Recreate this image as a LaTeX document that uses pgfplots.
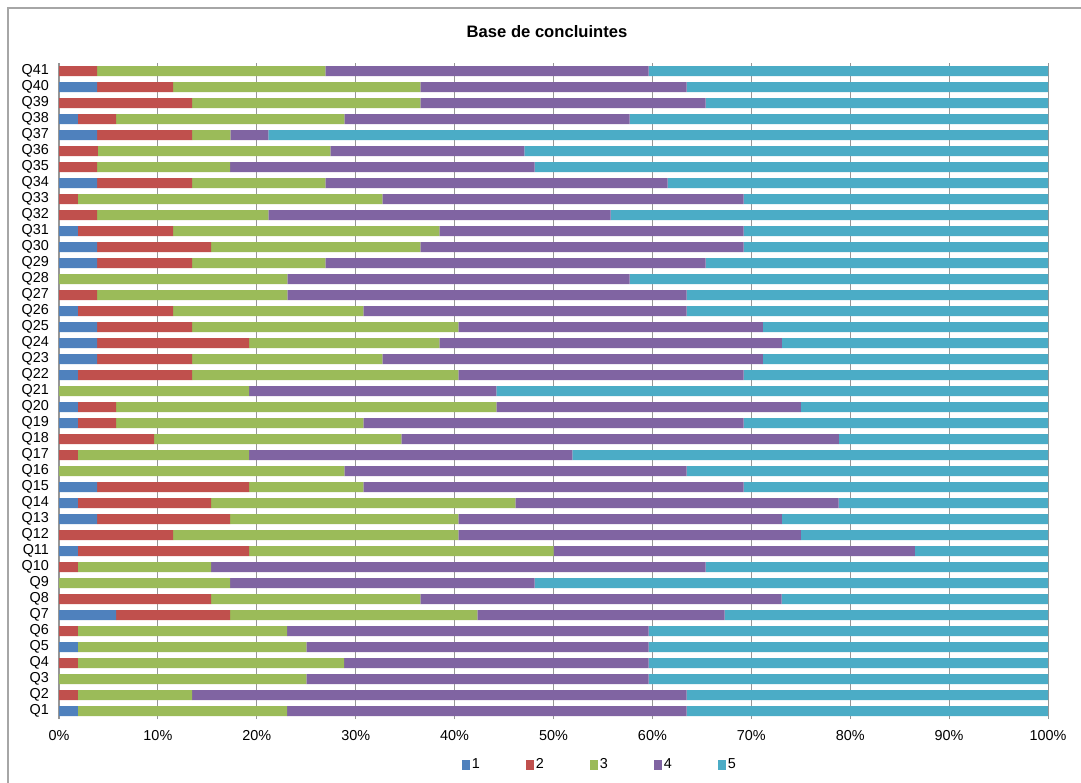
\documentclass[border=0pt]{standalone}
\usepackage{pgfplots}
\usepackage{pgfplotstable}
\pgfplotsset{compat=1.18}
\usepackage{fontspec}
\setmainfont{Liberation Sans}
\definecolor{c1}{HTML}{4F81BD}
\definecolor{c2}{HTML}{C0504D}
\definecolor{c3}{HTML}{9BBB59}
\definecolor{c4}{HTML}{8064A2}
\definecolor{c5}{HTML}{4BACC6}
\definecolor{gridc}{HTML}{969696}
\definecolor{framec}{HTML}{A6A6A6}

\pgfplotstableread{
q   a     b      c      d      e
Q1  1.92  0      21.15  40.38  36.54
Q2  0     1.92   11.54  50.00  36.54
Q3  0     0      25.00  34.62  40.38
Q4  0     1.92   26.92  30.77  40.38
Q5  1.92  0      23.08  34.62  40.38
Q6  0     1.92   21.15  36.54  40.38
Q7  5.77  11.54  25.00  25.00  32.69
Q8  0     15.38  21.15  36.54  26.92
Q9  0     0      17.31  30.77  51.92
Q10 0     1.92   13.46  50.00  34.62
Q11 1.92  17.31  30.77  36.54  13.46
Q12 0     11.54  28.85  34.62  25.00
Q13 3.85  13.46  23.08  32.69  26.92
Q14 1.92  13.46  30.77  32.69  21.15
Q15 3.85  15.38  11.54  38.46  30.77
Q16 0     0      28.85  34.62  36.54
Q17 0     1.92   17.31  32.69  48.08
Q18 0     9.62   25.00  44.23  21.15
Q19 1.92  3.85   25.00  38.46  30.77
Q20 1.92  3.85   38.46  30.77  25.00
Q21 0     0      19.23  25.00  55.77
Q22 1.92  11.54  26.92  28.85  30.77
Q23 3.85  9.62   19.23  38.46  28.85
Q24 3.85  15.38  19.23  34.62  26.92
Q25 3.85  9.62   26.92  30.77  28.85
Q26 1.92  9.62   19.23  32.69  36.54
Q27 0     3.85   19.23  40.38  36.54
Q28 0     0      23.08  34.62  42.31
Q29 3.85  9.62   13.46  38.46  34.62
Q30 3.85  11.54  21.15  32.69  30.77
Q31 1.92  9.62   26.92  30.77  30.77
Q32 0     3.85   17.31  34.62  44.23
Q33 0     1.92   30.77  36.54  30.77
Q34 3.85  9.62   13.46  34.62  38.46
Q35 0     3.85   13.46  30.77  51.92
Q36 0     3.92   23.53  19.61  52.94
Q37 3.85  9.62   3.85   3.85   78.85
Q38 1.92  3.85   23.08  28.85  42.31
Q39 0     13.46  23.08  28.85  34.62
Q40 3.85  7.69   25.00  26.92  36.54
Q41 0     3.85   23.08  32.69  40.38
}\data

\begin{document}
\begin{tikzpicture}[x=0.5pt,y=0.5pt]
\useasboundingbox (0,0) rectangle (1081,782);
\fill[white] (0,0) rectangle (1081,782);
\draw[framec, line width=0.8pt] (8,-5) -- (8,774) -- (1090,774);
\node[font=\bfseries\fontsize{8.3}{10}\selectfont] at (547,750) {Base de concluintes};
\begin{axis}[
  at={(29.5pt,31.5pt)}, anchor=south west,
  width=494.5pt, height=328pt, scale only axis,
  xbar stacked, bar width=5pt,
  xmin=0, xmax=100, ymin=0.5, ymax=41.5,
  enlargelimits=false,
  xtick={0,10,...,100},
  xticklabels={0\%,10\%,20\%,30\%,40\%,50\%,60\%,70\%,80\%,90\%,100\%},
  ytick={1,...,41},
  yticklabels from table={\data}{q},
  major tick length=0pt,
  xmajorgrids, grid style={gridc, line width=0.5pt},
  axis y line*=left, axis x line*=bottom,
  x axis line style={draw=none},
  y axis line style={draw=gridc, line width=0.6pt, -},
  tick label style={font=\fontsize{7.2}{8}\selectfont},
  xticklabel style={yshift=-2pt},
  yticklabel style={xshift=-1.5pt},
  legend style={draw=none, fill=none, at={(0.548,-0.07)}, anchor=center,
    legend columns=5, font=\fontsize{7.2}{8}\selectfont,
    /tikz/every even column/.append style={column sep=21pt},
    /tikz/every odd column/.append style={column sep=-1pt}},
  legend image code/.code={\fill[#1] (0pt,-2.5pt) rectangle (4pt,2.5pt);},
]
\addplot[fill=c1, draw=none] table[x=a, y expr=\coordindex+1] {\data};
\addplot[fill=c2, draw=none] table[x=b, y expr=\coordindex+1] {\data};
\addplot[fill=c3, draw=none] table[x=c, y expr=\coordindex+1] {\data};
\addplot[fill=c4, draw=none] table[x=d, y expr=\coordindex+1] {\data};
\addplot[fill=c5, draw=none] table[x=e, y expr=\coordindex+1] {\data};
\legend{1,2,3,4,5}
\end{axis}
\end{tikzpicture}
\end{document}
